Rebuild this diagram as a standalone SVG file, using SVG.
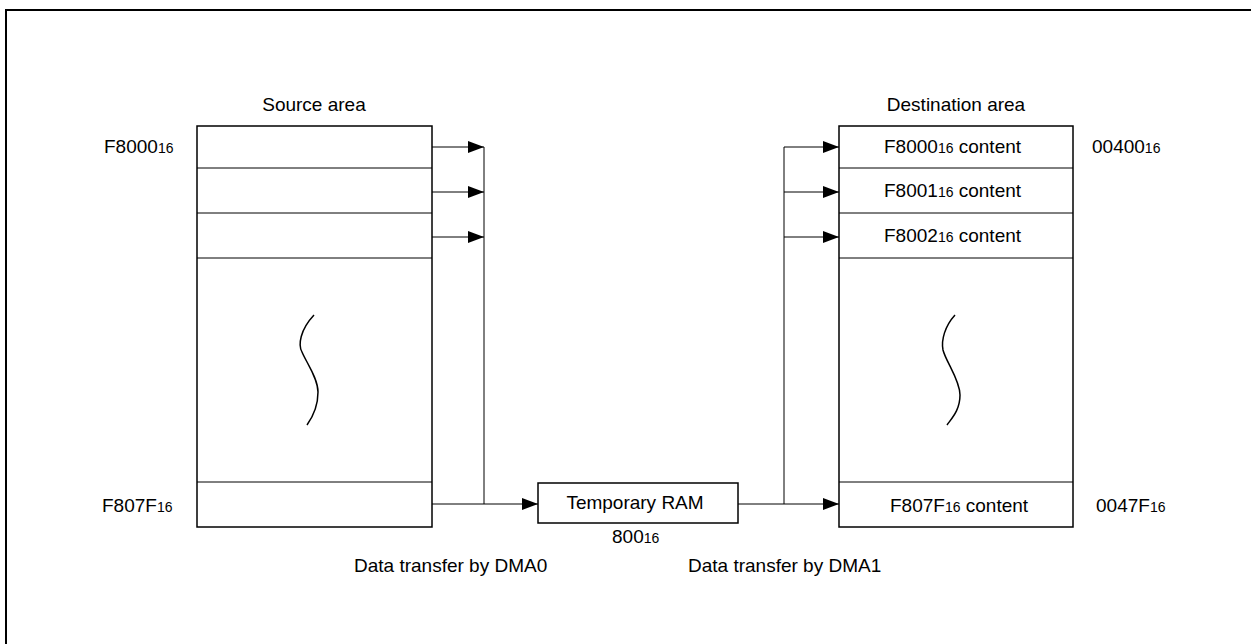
<svg xmlns="http://www.w3.org/2000/svg" width="1251" height="644" viewBox="0 0 1251 644">
<style>
text{font-family:"Liberation Sans",Arial,sans-serif;font-size:19px;fill:#000}
.s{font-size:14px}
.box{fill:#fff;stroke:#000;stroke-width:1.5}
.ln{fill:none;stroke:#000;stroke-width:1}
.sq{fill:none;stroke:#000;stroke-width:1.5}
.c{fill:none;stroke:#000;stroke-width:1}
</style>
<defs>
<marker id="ah" markerWidth="16" markerHeight="12" refX="16" refY="6" orient="auto" markerUnits="userSpaceOnUse">
<path d="M0,0 L16,6 L0,12 Z" fill="#000"/>
</marker>
</defs>
<rect width="1251" height="644" fill="#fff"/>
<path d="M6,644 V10 H1251" fill="none" stroke="#000" stroke-width="2"/>

<g id="source">
<text x="314" y="111" text-anchor="middle">Source area</text>
<rect class="box" x="197" y="126" width="235" height="401"/>
<line class="ln" x1="197" y1="168" x2="432" y2="168"/>
<line class="ln" x1="197" y1="213" x2="432" y2="213"/>
<line class="ln" x1="197" y1="258" x2="432" y2="258"/>
<line class="ln" x1="197" y1="482" x2="432" y2="482"/>
<path class="sq" d="M314,315 C300,330 298,345 302,352 C306,362 318,378 318,392 C318,408 312,418 307,425"/>
<text x="104" y="153">F8000<tspan class="s">16</tspan></text>
<text x="102" y="512">F807F<tspan class="s">16</tspan></text>
</g>

<g id="dest">
<text x="956" y="111" text-anchor="middle">Destination area</text>
<rect class="box" x="839" y="126" width="234" height="401"/>
<line class="ln" x1="839" y1="168" x2="1073" y2="168"/>
<line class="ln" x1="839" y1="213" x2="1073" y2="213"/>
<line class="ln" x1="839" y1="258" x2="1073" y2="258"/>
<line class="ln" x1="839" y1="482" x2="1073" y2="482"/>
<path class="sq" d="M955,315 C945,326 941,340 943,350 C946,362 960,380 960,395 C960,410 952,418 947,425"/>
<text x="884" y="153">F8000<tspan class="s">16</tspan> content</text>
<text x="884" y="197">F8001<tspan class="s">16</tspan> content</text>
<text x="884" y="242">F8002<tspan class="s">16</tspan> content</text>
<text x="890" y="512">F807F<tspan class="s">16</tspan> content</text>
<text x="1092" y="153">00400<tspan class="s">16</tspan></text>
<text x="1096" y="512">0047F<tspan class="s">16</tspan></text>
</g>

<g id="tempram">
<rect class="box" x="538" y="483" width="200" height="40"/>
<text x="635" y="509" text-anchor="middle">Temporary RAM</text>
<text x="612" y="543">800<tspan class="s">16</tspan></text>
</g>

<g id="labels">
<text x="354" y="572">Data transfer by DMA0</text>
<text x="688" y="572">Data transfer by DMA1</text>
</g>

<g id="connectors">
<line class="c" x1="432" y1="147" x2="484" y2="147" marker-end="url(#ah)"/>
<line class="c" x1="432" y1="192" x2="484" y2="192" marker-end="url(#ah)"/>
<line class="c" x1="432" y1="237" x2="484" y2="237" marker-end="url(#ah)"/>
<line class="c" x1="484" y1="147" x2="484" y2="504"/>
<line class="c" x1="432" y1="504" x2="538" y2="504" marker-end="url(#ah)"/>
<line class="c" x1="738" y1="504" x2="839" y2="504" marker-end="url(#ah)"/>
<line class="c" x1="784" y1="147" x2="784" y2="504"/>
<line class="c" x1="784" y1="147" x2="839" y2="147" marker-end="url(#ah)"/>
<line class="c" x1="784" y1="192" x2="839" y2="192" marker-end="url(#ah)"/>
<line class="c" x1="784" y1="237" x2="839" y2="237" marker-end="url(#ah)"/>
</g>
</svg>
